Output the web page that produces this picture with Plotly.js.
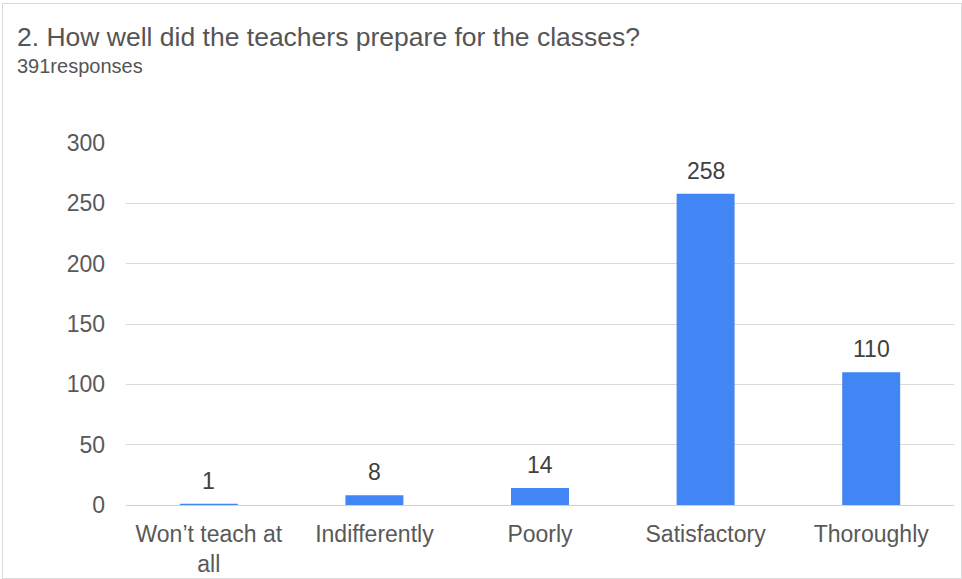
<!DOCTYPE html>
<html>
<head>
<meta charset="utf-8">
<script src="https://cdn.plot.ly/plotly-3.0.1.min.js"></script>
<style>
  html, body { margin: 0; padding: 0; background: #fff; }
  #wrap { position: relative; width: 962px; height: 579px; }
  #chart { width: 962px; height: 579px; }
  #frame { position: absolute; left: 2px; top: 3px; width: 958px; height: 574px;
           border: 1px solid #d9d9d9; pointer-events: none; box-sizing: content-box; }
</style>
</head>
<body>
<div id="wrap"><div id="chart"></div><div id="frame"></div></div>
<script>
const categories = ["Won’t teach at all", "Indifferently", "Poorly", "Satisfactory", "Thoroughly"];
const tickLabels = ["Won’t teach at<br>all", "Indifferently", "Poorly", "Satisfactory", "Thoroughly"];
const responses = [1, 8, 14, 258, 110];
const yTicks = [0, 50, 100, 150, 200, 250, 300];
const titleText = "2. How well did the teachers prepare for the classes?";
const subtitleText = "391responses";

const FONT = "Liberation Sans, Arial, sans-serif";

const trace = {
  type: "bar",
  x: categories,
  y: responses,
  marker: { color: "#4285F4" },
  hoverinfo: "x+y"
};

const annotations = categories.map((c, i) => ({
  x: c, y: responses[i], xref: "x", yref: "y",
  text: String(responses[i]), showarrow: false,
  yanchor: "bottom", yshift: 8,
  font: { family: FONT, size: 23, color: "#404040" }
}));

annotations.push({
  xref: "paper", yref: "paper", x: -0.1335, y: 1.293,
  xanchor: "left", yanchor: "middle", showarrow: false,
  text: titleText,
  font: { family: FONT, size: 26.5, color: "#555555" }
});
annotations.push({
  xref: "paper", yref: "paper", x: -0.1335, y: 1.212,
  xanchor: "left", yanchor: "middle", showarrow: false,
  text: subtitleText,
  font: { family: FONT, size: 20, color: "#555555" }
});

const layout = {
  width: 962, height: 579,
  margin: { l: 126, r: 8, t: 143, b: 74 },
  paper_bgcolor: "#ffffff",
  plot_bgcolor: "#ffffff",
  showlegend: false,
  bargap: 0.65,
  xaxis: {
    type: "category",
    tickvals: categories,
    ticktext: tickLabels,
    tickfont: { family: FONT, size: 23, color: "#595959" },
    showgrid: false,
    showline: false,
    zeroline: false,
    ticks: "",
    ticklabelstandoff: 13
  },
  yaxis: {
    range: [0, 300],
    tickvals: yTicks,
    tickfont: { family: FONT, size: 23, color: "#595959" },
    gridcolor: "#d9d9d9",
    gridwidth: 1,
    zeroline: true,
    zerolinecolor: "#d0d0d0",
    zerolinewidth: 1,
    showline: false,
    ticks: "",
    ticklabelstandoff: 20
  },
  annotations: annotations
};

Plotly.newPlot("chart", [trace], layout, { displayModeBar: false, staticPlot: true });
</script>
</body>
</html>
